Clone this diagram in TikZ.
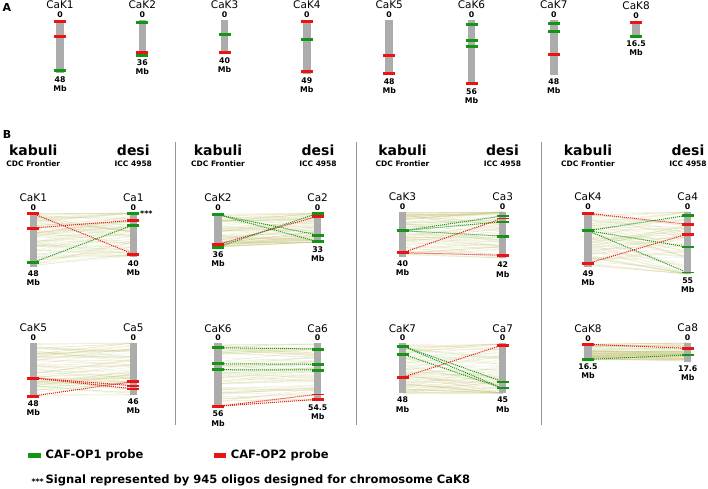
\documentclass[tikz,border=0pt]{standalone}
\usepackage{fontspec}
\setmainfont{DejaVu Sans}
\usepackage{tikz}
\usetikzlibrary{positioning}
\definecolor{probegrn}{RGB}{20,150,20}
\definecolor{probered}{RGB}{235,20,20}
\definecolor{chrgray}{RGB}{172,172,172}
\definecolor{sepgray}{RGB}{150,150,150}
\definecolor{syn0}{RGB}{200,190,115}
\definecolor{syn1}{RGB}{180,210,125}
\definecolor{syn2}{RGB}{215,195,135}
\pgfdeclarelayer{bg}
\pgfsetlayers{bg,main}
\tikzset{
  chrbar/.style={line width=7.5pt, color=chrgray},
  chrname/.style={font=\fontsize{10.5}{12}\selectfont, inner sep=0pt},
  chrnum/.style={font=\fontsize{7.8}{9}\selectfont\bfseries, inner sep=0pt},
  grntick/.style={line width=3pt, color=probegrn},
  redtick/.style={line width=3pt, color=probered},
  grnslim/.style={line width=2pt, color=probegrn},
  redslim/.style={line width=2pt, color=probered},
  grnthin/.style={line width=1.2pt, color=probegrn},
  redthin/.style={line width=1.2pt, color=probered},
  grnlink/.style={line width=1pt, color=probegrn, dash pattern=on 1pt off 1pt},
  redlink/.style={line width=1pt, color=probered, dash pattern=on 1pt off 1pt},
  synline/.style={line width=0.6pt, opacity=0.25},
  hdr/.style={font=\fontsize{14}{16}\selectfont\bfseries, inner sep=0pt},
  subhdr/.style={font=\fontsize{7.5}{9}\selectfont\bfseries, inner sep=0pt},
  panel/.style={font=\fontsize{11}{12}\selectfont\bfseries, inner sep=0pt},
  sep/.style={line width=0.8pt, color=sepgray},
  legbox/.style={rectangle, minimum width=12.5pt, minimum height=5pt, inner sep=0pt},
  legtxt/.style={font=\fontsize{11.5}{13}\selectfont\bfseries, inner sep=0pt}
}
% chromosome: id, x, top, bottom, name, size
\newcommand{\chrom}[6]{%
  \draw[chrbar] (#2,#3) coordinate (#1t) -- (#2,#4) coordinate (#1b);
  \node[chrname] (#1n) at (#2,#3-15) {#5};
  \node[chrnum] (#1z) at (#2,#3-5.5) {0};
  \node[chrnum] (#1s) at (#2,#4+6.5) {#6};
  \node[chrnum] (#1u) at (#2,#4+16) {Mb};
}
% probe: id, style, x, y
\newcommand{\probe}[4]{%
  \coordinate (#1) at (#3,#4);
  \draw[#2] ([xshift=-6pt]#1) -- ([xshift=6pt]#1);
}
% synteny lines: xL, topL, botL, xR, topR, botR, spread
\newcommand{\synteny}[7]{%
  \foreach \i in {1,...,80}{
    \pgfmathsetmacro{\u}{rnd}
    \pgfmathsetmacro{\v}{min(1,max(0,\u+#7*(rnd-0.5)))}
    \pgfmathsetmacro{\ya}{#2+\u*(#3-#2)}
    \pgfmathsetmacro{\yb}{#5+\v*(#6-#5)}
    \pgfmathtruncatemacro{\c}{mod(\i,3)}
    \draw[synline, color=syn\c] (#1,\ya) -- (#4,\yb);
  }
}

\begin{document}
\begin{tikzpicture}[x=1pt, y=-1pt]
  \useasboundingbox (0,0) rectangle (708,488);
  \pgfmathsetseed{42}

  % Panel A
  \node[panel] (pa) at (7,7) {A};
  \chrom{a1}{60}{20}{73}{CaK1}{48}
  \probe{a1a}{redtick}{60}{21.7}
  \probe{a1b}{redtick}{60}{36}
  \probe{a1c}{grntick}{60}{70.3}
  \chrom{a2}{142.3}{20}{56}{CaK2}{36}
  \probe{a2a}{grntick}{142.3}{22.7}
  \probe{a2b}{redtick}{142.3}{52.3}
  \probe{a2c}{grntick}{142.3}{55.7}
  \chrom{a3}{224.6}{20}{54}{CaK3}{40}
  \probe{a3a}{grntick}{224.6}{34.3}
  \probe{a3b}{redtick}{224.6}{52.7}
  \chrom{a4}{306.9}{20}{74}{CaK4}{49}
  \probe{a4a}{redtick}{306.9}{21.7}
  \probe{a4b}{grntick}{306.9}{39.3}
  \probe{a4c}{redtick}{306.9}{71.3}
  \chrom{a5}{389.2}{20}{75}{CaK5}{48}
  \probe{a5a}{redtick}{389.2}{55}
  \probe{a5b}{redtick}{389.2}{73.3}
  \chrom{a6}{471.5}{20}{85}{CaK6}{56}
  \probe{a6a}{grntick}{471.5}{24.3}
  \probe{a6b}{grntick}{471.5}{40.7}
  \probe{a6c}{grntick}{471.5}{46.7}
  \probe{a6d}{redtick}{471.5}{83.3}
  \chrom{a7}{553.8}{20}{75}{CaK7}{48}
  \probe{a7a}{grntick}{553.8}{23.3}
  \probe{a7b}{grntick}{553.8}{31}
  \probe{a7c}{redtick}{553.8}{54.3}
  \chrom{a8}{636.1}{21}{37}{CaK8}{16.5}
  \probe{a8a}{redtick}{636.1}{22}
  \probe{a8b}{grntick}{636.1}{36.3}

  % Panel B headers
  \node[panel] (pb) at (7,134) {B};
  \foreach \xa [count=\n] in {33.3,218,402.5,588}{
    \node[hdr] (kab\n) at (\xa,150.7) {kabuli};
    \node[subhdr] (cdc\n) at (\xa,163.3) {CDC Frontier};
    \node[hdr] (desi\n) at (\xa+100,150.7) {desi};
    \node[subhdr] (icc\n) at (\xa+100,163.3) {ICC 4958};
  }
  \foreach \xs [count=\n] in {175,356,541}{
    \draw[sep] (\xs,142) coordinate (s\n t) -- (\xs,425) coordinate (s\n b);
  }

  % CaK1 / Ca1
  \chrom{k1}{33.3}{212.7}{266.7}{CaK1}{48}
  \probe{k1a}{redtick}{33.3}{213.7}
  \probe{k1b}{redtick}{33.3}{228}
  \probe{k1c}{grntick}{33.3}{262.3}
  \chrom{c1}{133.3}{212.7}{256.7}{Ca1}{40}
  \probe{c1a}{grntick}{133.3}{213.5}
  \probe{c1b}{redtick}{133.3}{220.3}
  \probe{c1c}{grntick}{133.3}{225}
  \probe{c1d}{redtick}{133.3}{254}
  \node[chrnum, anchor=west] (stars) at (140,213.5) {***};

  % CaK2 / Ca2
  \chrom{k2}{218}{212.7}{247.7}{CaK2}{36}
  \probe{k2a}{grntick}{218}{214.7}
  \probe{k2b}{redtick}{218}{244.3}
  \probe{k2c}{grntick}{218}{247}
  \chrom{c2}{317.7}{212.7}{242.7}{Ca2}{33}
  \probe{c2a}{grntick}{317.7}{213.3}
  \probe{c2b}{redtick}{317.7}{216.3}
  \probe{c2c}{grntick}{317.7}{235}
  \probe{c2d}{grntick}{317.7}{241.7}

  % CaK3 / Ca3
  \chrom{k3}{402.5}{211.7}{256.7}{CaK3}{40}
  \probe{k3a}{grntick}{402.5}{230.7}
  \probe{k3b}{redtick}{402.5}{252.7}
  \chrom{c3}{502.7}{211.7}{258.3}{Ca3}{42}
  \probe{c3a}{grnslim}{502.7}{216}
  \probe{c3b}{redthin}{502.7}{218.3}
  \probe{c3c}{grnslim}{502.7}{221.7}
  \probe{c3d}{grntick}{502.7}{236}
  \probe{c3e}{redtick}{502.7}{255.3}

  % CaK4 / Ca4
  \chrom{k4}{588}{211.7}{266.7}{CaK4}{49}
  \probe{k4a}{redtick}{588}{213.3}
  \probe{k4b}{grntick}{588}{230.7}
  \probe{k4c}{redtick}{588}{263.3}
  \chrom{c4}{687.7}{211.7}{274}{Ca4}{55}
  \probe{c4a}{grntick}{687.7}{215.3}
  \probe{c4b}{redtick}{687.7}{224.3}
  \probe{c4c}{redtick}{687.7}{234}
  \probe{c4d}{grnthin}{687.7}{247}
  \probe{c4e}{grnthin}{687.7}{272.7}

  % CaK5 / Ca5
  \chrom{k5}{33.3}{342.7}{396.7}{CaK5}{48}
  \probe{k5a}{redtick}{33.3}{378}
  \probe{k5b}{redtick}{33.3}{396}
  \chrom{c5}{133.3}{342.7}{395}{Ca5}{46}
  \probe{c5a}{redtick}{133.3}{381.5}
  \probe{c5b}{redslim}{133.3}{385.7}
  \probe{c5c}{redslim}{133.3}{388.8}

  % CaK6 / Ca6
  \chrom{k6}{218}{343.3}{407.3}{CaK6}{56}
  \probe{k6a}{grntick}{218}{347.7}
  \probe{k6b}{grntick}{218}{363.7}
  \probe{k6c}{grntick}{218}{369.7}
  \probe{k6d}{redtick}{218}{406.3}
  \chrom{c6}{317.7}{343.3}{401}{Ca6}{54.5}
  \probe{c6a}{grntick}{317.7}{349}
  \probe{c6b}{grntick}{317.7}{364.3}
  \probe{c6c}{grntick}{317.7}{370}
  \probe{c6d}{redthin}{317.7}{394.3}
  \probe{c6e}{redtick}{317.7}{399.3}

  % CaK7 / Ca7
  \chrom{k7}{402.5}{343.3}{393.3}{CaK7}{48}
  \probe{k7a}{grntick}{402.5}{346}
  \probe{k7b}{grntick}{402.5}{354}
  \probe{k7c}{redtick}{402.5}{377.3}
  \chrom{c7}{502.7}{343.3}{393.3}{Ca7}{45}
  \probe{c7a}{redtick}{502.7}{345}
  \probe{c7b}{grnslim}{502.7}{381.7}
  \probe{c7c}{grnslim}{502.7}{388.3}

  % CaK8 / Ca8
  \chrom{k8}{588}{343.7}{360}{CaK8}{16.5}
  \probe{k8a}{redtick}{588}{344.3}
  \probe{k8b}{grntick}{588}{359.3}
  \chrom{c8}{687.7}{342.7}{361.7}{Ca8}{17.6}
  \probe{c8a}{redtick}{687.7}{348.3}
  \probe{c8b}{grnslim}{687.7}{355}

  \begin{pgfonlayer}{bg}
    % faint synteny
    \synteny{33.3}{213}{266}{133.3}{213}{256}{0.8}
    \synteny{218}{214}{247}{317.7}{213}{242}{0.7}
    \synteny{402.5}{212}{256}{502.7}{212}{258}{0.8}
    \synteny{588}{212}{266}{687.7}{212}{274}{1.0}
    \synteny{33.3}{343}{396}{133.3}{343}{395}{0.6}
    \synteny{218}{344}{407}{317.7}{344}{401}{0.3}
    \synteny{402.5}{344}{393}{502.7}{344}{393}{0.9}
    \synteny{588}{344}{360}{687.7}{343}{361}{0.3}
    % probe links
    \draw[redlink] (k1a) -- (c1d);
    \draw[redlink] (k1b) -- (c1b);
    \draw[grnlink] (k1c) -- (c1c);
    \draw[grnlink] (k2a) -- (c2c);
    \draw[grnlink] (k2a) -- (c2d);
    \draw[redlink] (k2b) -- (c2b);
    \draw[grnlink] (k2c) -- (c2a);
    \draw[grnlink] (k3a) -- (c3a);
    \draw[grnlink] (k3a) -- (c3c);
    \draw[grnlink] (k3a) -- (c3d);
    \draw[redlink] (k3b) -- (c3b);
    \draw[redlink] (k3b) -- (c3e);
    \draw[redlink] (k4a) -- (c4b);
    \draw[grnlink] (k4b) -- (c4a);
    \draw[grnlink] (k4b) -- (c4d);
    \draw[grnlink] (k4b) -- (c4e);
    \draw[redlink] (k4c) -- (c4c);
    \draw[redlink] (k5a) -- (c5b);
    \draw[redlink] (k5a) -- (c5c);
    \draw[redlink] (k5b) -- (c5a);
    \draw[grnlink] (k6a) -- (c6a);
    \draw[grnlink] (k6b) -- (c6b);
    \draw[grnlink] (k6c) -- (c6c);
    \draw[redlink] (k6d) -- (c6d);
    \draw[redlink] (k6d) -- (c6e);
    \draw[grnlink] (k7a) -- (c7b);
    \draw[grnlink] (k7a) -- (c7c);
    \draw[grnlink] (k7b) -- (c7c);
    \draw[redlink] (k7c) -- (c7a);
    \draw[redlink] (k8a) -- (c8a);
    \draw[grnlink] (k8b) -- (c8b);
  \end{pgfonlayer}

  % Legend
  \node[legbox, fill=probegrn] (lg1) at (34.7,455) {};
  \node[legtxt, anchor=west] (lt1) at (45.5,455) {CAF-OP1 probe};
  \node[legbox, fill=probered] (lg2) at (220,455) {};
  \node[legtxt, anchor=west] (lt2) at (230.7,455) {CAF-OP2 probe};
  \node[chrnum, anchor=east] (lst) at (44,481.5) {***};
  \node[legtxt, anchor=west] (lt3) at (45.5,480.7) {Signal represented by 945 oligos designed for chromosome CaK8};
\end{tikzpicture}
\end{document}
